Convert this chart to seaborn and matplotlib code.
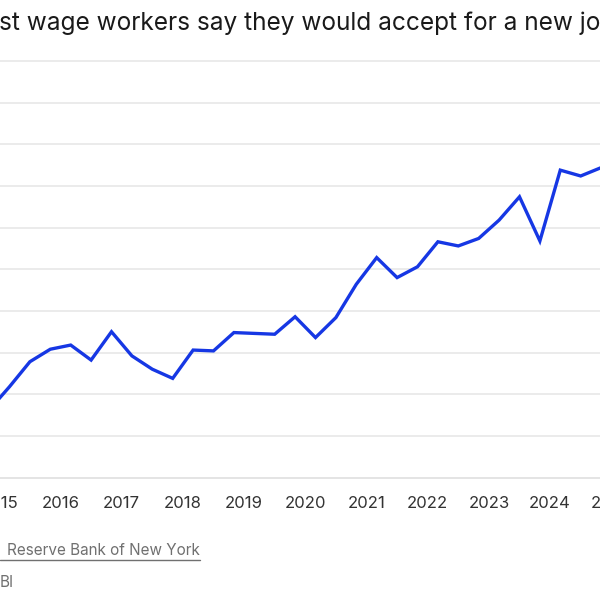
import matplotlib
matplotlib.use("Agg")
import matplotlib.pyplot as plt
import seaborn as sns
import pandas as pd
from matplotlib.lines import Line2D

# Survey waves (March / July / November) and reservation wage, $ thousands
survey_months = [
    "2014-11", "2015-03", "2015-07", "2015-11", "2016-03", "2016-07", "2016-11",
    "2017-03", "2017-07", "2017-11", "2018-03", "2018-07", "2018-11",
    "2019-03", "2019-07", "2019-11", "2020-03", "2020-07", "2020-11",
    "2021-03", "2021-07", "2021-11", "2022-03", "2022-07", "2022-11",
    "2023-03", "2023-07", "2023-11", "2024-03", "2024-07", "2024-11",
]
reservation_wage_k = [
    53.1, 55.9, 58.9, 60.4, 60.9, 59.1, 62.5,
    59.6, 58.0, 56.9, 60.3, 60.2, 62.4,
    62.3, 62.2, 64.3, 61.8, 64.2, 68.2,
    71.4, 69.0, 70.3, 73.3, 72.8, 73.7,
    75.9, 78.7, 73.4, 81.9, 81.2, 82.2,
]
year_ticks = list(range(2015, 2026))
grid_values = [50, 55, 60, 65, 70, 75, 80, 85, 90, 95]

title_text = "st wage workers say they would accept for a new job"
source_text = "Reserve Bank of New York"
credit_text = "BI"

dates = pd.to_datetime(survey_months)
df = pd.DataFrame({
    "year": dates.year + (dates.month - 1) / 12,
    "wage": reservation_wage_k,
})

sns.set_style("white")
plt.rcParams["font.family"] = ["Inter", "DejaVu Sans"]

W, H = 600, 600
fig = plt.figure(figsize=(6, 6), dpi=100)

# the chart is a crop: axes run past both sides of the figure
ax_left_px, ax_right_px = -60, 660
ax_top_px, ax_bot_px = 52.7, 477.5
ax = fig.add_axes([ax_left_px / W, 1 - ax_bot_px / H,
                   (ax_right_px - ax_left_px) / W, (ax_bot_px - ax_top_px) / H])

sns.lineplot(data=df, x="year", y="wage", ax=ax, color="#1637e4",
             linewidth=2.4, solid_joinstyle="miter")

ax.set_xlim(2014.031, 2025.796)
ax.set_ylim(45, 96)
ax.set_yticks(grid_values)
ax.set_yticklabels([])
ax.tick_params(axis="y", length=0)
ax.grid(axis="y", color="#e6e6e6", linewidth=1.1)
ax.grid(axis="x", visible=False)
ax.set_axisbelow(True)

ax.set_xticks(year_ticks)
ax.set_xticklabels([str(y) for y in year_ticks], fontsize=12, color="#333333")
ax.tick_params(axis="x", length=7, width=1, color="#dcdcdc", pad=6)

for side in ["top", "left", "right"]:
    ax.spines[side].set_visible(False)
ax.spines["bottom"].set_color("#dcdcdc")
ax.spines["bottom"].set_linewidth(1.1)
ax.set_xlabel("")
ax.set_ylabel("")

fig.text(-0.002, 1 - 30 / H, title_text, fontsize=17.6, color="#1a1a1a",
         ha="left", va="baseline")

src = fig.text(7 / W, 1 - 555 / H, source_text, fontsize=11, color="#707070",
               ha="left", va="baseline")
fig.text(0 / W, 1 - 587 / H, credit_text, fontsize=11, color="#707070",
         ha="left", va="baseline")

# underline the source link
renderer = fig.canvas.get_renderer()
bb = src.get_window_extent(renderer=renderer)
x_end = bb.x1 / fig.bbox.width
fig.add_artist(Line2D([0, x_end], [1 - 559.5 / H] * 2, transform=fig.transFigure,
                      color="#707070", linewidth=1))

fig.savefig("out.png", dpi=100)
